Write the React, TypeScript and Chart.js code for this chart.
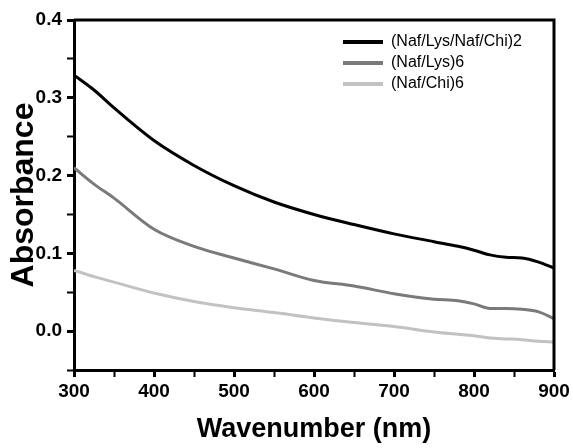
import React, { useEffect, useRef } from 'react';
import { Chart, registerables } from 'chart.js';

Chart.register(...registerables);

const wavelengths = [300, 325, 350, 400, 450, 500, 550, 600, 650, 700, 750, 780, 800, 820, 840, 860, 880, 900];
const seriesLabels = ['(Naf/Lys/Naf/Chi)2', '(Naf/Lys)6', '(Naf/Chi)6'];
const naflysNafchi2 = [0.329, 0.310, 0.287, 0.245, 0.213, 0.187, 0.166, 0.150, 0.137, 0.125, 0.115, 0.109, 0.104, 0.098, 0.095, 0.094, 0.089, 0.081];
const naflys6 = [0.210, 0.189, 0.171, 0.131, 0.109, 0.094, 0.080, 0.065, 0.058, 0.048, 0.041, 0.039, 0.035, 0.029, 0.029, 0.028, 0.025, 0.016];
const nafchi6 = [0.078, 0.070, 0.063, 0.049, 0.038, 0.030, 0.024, 0.017, 0.011, 0.006, -0.001, -0.004, -0.006, -0.009, -0.010, -0.011, -0.013, -0.014];
const seriesColors = ['#000000', '#7a7a7a', '#c2c2c2'];

const xTitle = 'Wavenumber (nm)';
const yTitle = 'Absorbance';

const FONT = '"Liberation Sans", Arial, Helvetica, sans-serif';

const framePlugin = {
  id: 'frame',
  beforeDraw(chart: any) {
    const lg = chart.legend;
    const a = chart.chartArea;
    if (lg && a) {
      const w = lg.width;
      const h = lg.height;
      lg.left = a.left + 264;
      lg.right = lg.left + w;
      lg.top = a.top + 9;
      lg.bottom = lg.top + h;
    }
  },
  afterDatasetsDraw(chart: any) {
    const { ctx, chartArea: a } = chart;
    ctx.save();
    ctx.strokeStyle = '#000';
    ctx.lineWidth = 3;
    ctx.beginPath();
    ctx.moveTo(a.left, a.top);
    ctx.lineTo(a.right, a.top);
    ctx.lineTo(a.right, a.bottom);
    ctx.stroke();
    ctx.restore();
  },
};

export default function App() {
  const ref = useRef<HTMLCanvasElement | null>(null);

  useEffect(() => {
    if (!ref.current) return;
    const series = [naflysNafchi2, naflys6, nafchi6];
    const chart = new Chart(ref.current, {
      type: 'line',
      data: {
        datasets: series.map((vals, i) => ({
          label: seriesLabels[i],
          data: wavelengths.map((x, j) => ({ x, y: vals[j] })),
          borderColor: seriesColors[i],
          backgroundColor: seriesColors[i],
          borderWidth: 3,
          pointRadius: 0,
          fill: false,
          cubicInterpolationMode: 'monotone',
        })),
      },
      options: {
        responsive: false,
        animation: false,
        color: '#000',
        layout: { padding: { left: 0, top: 20, right: 19, bottom: 0 } },
        plugins: {
          tooltip: { enabled: false },
          legend: {
            position: 'chartArea',
            align: 'start',
            labels: {
              usePointStyle: true,
              pointStyle: 'line',
              pointStyleWidth: 40,
              padding: 5,
              color: '#000',
              font: { family: FONT, size: 16 },
              generateLabels: (c: any) =>
                Chart.defaults.plugins.legend.labels.generateLabels(c).map((l: any) => ({ ...l, lineWidth: 4 })),
            },
          },
        },
        scales: {
          x: {
            type: 'linear',
            min: 300,
            max: 900,
            ticks: {
              stepSize: 50,
              autoSkip: false,
              maxRotation: 0,
              padding: 3,
              color: '#000',
              font: { family: FONT, size: 19, weight: 'bold' },
              callback: (v: any) => (Math.round(v) % 100 === 0 ? String(Math.round(v)) : ''),
            },
            grid: {
              drawOnChartArea: false,
              tickLength: 7,
              tickColor: '#000',
              tickWidth: (ctx: any) => (ctx.tick && Math.round(ctx.tick.value) % 100 === 0 ? 3 : 2),
            },
            border: { color: '#000', width: 3 },
            title: {
              display: true,
              text: xTitle,
              color: '#000',
              font: { family: FONT, size: 27, weight: 'bold' },
              padding: { top: 0, bottom: 2 },
            },
            afterFit: (s: any) => {
              s.height = 78;
            },
          },
          y: {
            type: 'linear',
            min: -0.05,
            max: 0.4,
            ticks: {
              stepSize: 0.05,
              autoSkip: false,
              padding: 5,
              color: '#000',
              font: { family: FONT, size: 19, weight: 'bold' },
              callback: (v: any) => {
                const r = Math.round(v * 100);
                return r % 10 === 0 ? (r / 100).toFixed(1) : '';
              },
            },
            grid: {
              drawOnChartArea: false,
              tickLength: 7,
              tickColor: '#000',
              tickWidth: (ctx: any) => (ctx.tick && Math.round(ctx.tick.value * 100) % 10 === 0 ? 3 : 2),
            },
            border: { color: '#000', width: 3 },
            title: {
              display: true,
              text: yTitle,
              color: '#000',
              font: { family: FONT, size: 32, weight: 'bold' },
              padding: { top: 5, bottom: 0 },
            },
            afterFit: (s: any) => {
              s.width = 74;
            },
          },
        },
      },
      plugins: [framePlugin],
    } as any);
    return () => chart.destroy();
  }, []);

  return (
    <div style={{ position: 'absolute', left: 0, top: 0, width: 573, height: 448, background: '#fff' }}>
      <canvas ref={ref} width={573} height={448} style={{ display: 'block' }} />
    </div>
  );
}
